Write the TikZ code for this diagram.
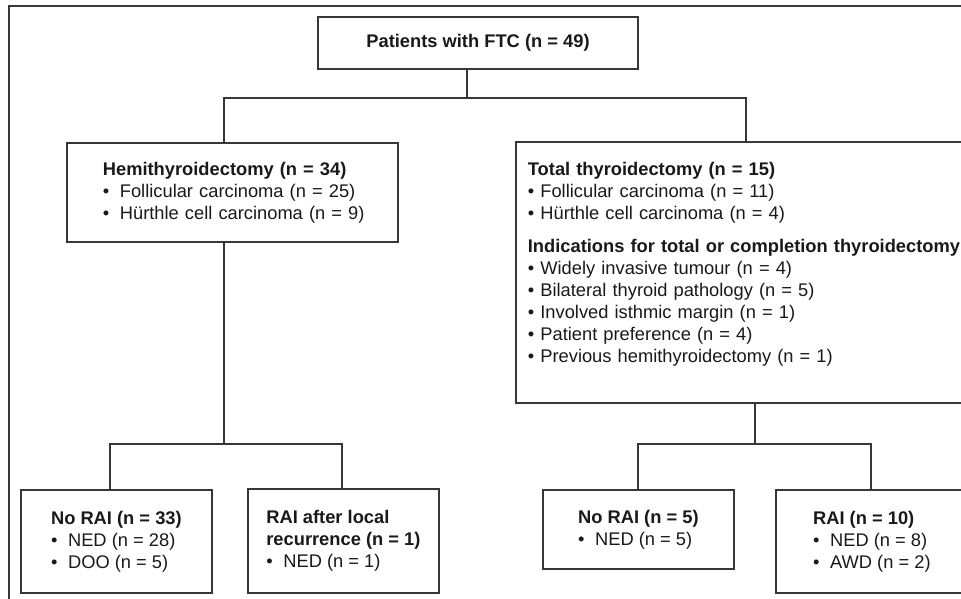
\documentclass[tikz,border=0pt]{standalone}
\usepackage{fontspec}
\setmainfont{Liberation Sans}
\definecolor{boxline}{RGB}{55,55,55}
\definecolor{boxtext}{RGB}{25,25,25}
\newcommand{\bul}{\makebox[17pt][l]{\textbullet}}
\newcommand{\sbul}{\makebox[12.5pt][l]{\textbullet}}

\begin{document}
\begin{tikzpicture}[
  x=1pt, y=-1pt,
  box/.style={
    draw=boxline,
    rectangle,
    line width=1.8pt,
    align=left,
    inner ysep=0pt,
    font=\fontsize{18.3}{22}\selectfont\color{boxtext}
  },
  outbox/.style={
    box,
    anchor=north west,
    minimum width=191
  },
  link/.style={draw=boxline, line width=1.8pt}
]
\clip (0,0) rectangle (961,598);
\draw[link] (975,6) -- (9,6) -- (9,610);

\node[box, align=center, minimum width=320, minimum height=52] (ftc) at (478,43) {\textbf{Patients with FTC (n = 49)}};

% Surgery boxes
\node[box, anchor=north west, minimum width=331, minimum height=99, text width=259, inner xsep=36] (hemi) at (66,142)
  {\textbf{Hemithyroidectomy (n = 34)}\\ \bul Follicular carcinoma (n = 25)\\ \mbox{\bul Hürthle cell carcinoma (n = 9)}};
\node[box, anchor=north west, minimum width=460, minimum height=261, text width=436, inner xsep=12] (total) at (515,141)
  {\textbf{Total thyroidectomy (n = 15)}\\ \sbul Follicular carcinoma (n = 11)\\ \sbul Hürthle cell carcinoma (n = 4)\\[11pt]
   \textbf{Indications for total or completion thyroidectomy}\\ \sbul Widely invasive tumour (n = 4)\\
   \sbul Bilateral thyroid pathology (n = 5)\\ \sbul Involved isthmic margin (n = 1)\\
   \sbul Patient preference (n = 4)\\ \sbul Previous hemithyroidectomy (n = 1)\rule[-20pt]{0pt}{20pt}};

% Outcome boxes
\node[outbox, minimum height=103] (hemiNoRai) at (20,489) {\textbf{No RAI (n = 33)}\\ \bul NED (n = 28)\\ \bul DOO (n = 5)};
\node[outbox, minimum height=104] (hemiRai) at (247,488) {\textbf{RAI after local}\\ \textbf{recurrence (n = 1)}\\ \bul NED (n = 1)};
\node[outbox, minimum height=79] (totalNoRai) at (542,489) {\textbf{No RAI (n = 5)}\\ \bul NED (n = 5)};
\node[outbox, minimum width=192, minimum height=103] (totalRai) at (775,489) {\textbf{RAI (n = 10)}\\ \bul NED (n = 8)\\ \bul AWD (n = 2)};

% Connectors
\coordinate (topsplit) at (467,98);
\coordinate (armL) at (224,98);
\coordinate (armR) at (746,98);
\draw[link] (ftc.south -| topsplit) -- (topsplit);
\draw[link] (hemi.north -| armL) -- (armL) -- (armR) -- (armR |- total.north);

\coordinate (hemisplit) at (224,444);
\coordinate (hemiL) at (110,444);
\coordinate (hemiR) at (342,444);
\draw[link] (hemi.south -| hemisplit) -- (hemisplit);
\draw[link] (hemiNoRai.north -| hemiL) -- (hemiL) -- (hemiR) -- (hemiR |- hemiRai.north);

\coordinate (totalsplit) at (755,444);
\coordinate (totalL) at (638,444);
\coordinate (totalR) at (871,444);
\draw[link] (total.south -| totalsplit) -- (totalsplit);
\draw[link] (totalNoRai.north -| totalL) -- (totalL) -- (totalR) -- (totalR |- totalRai.north);

\end{tikzpicture}
\end{document}
